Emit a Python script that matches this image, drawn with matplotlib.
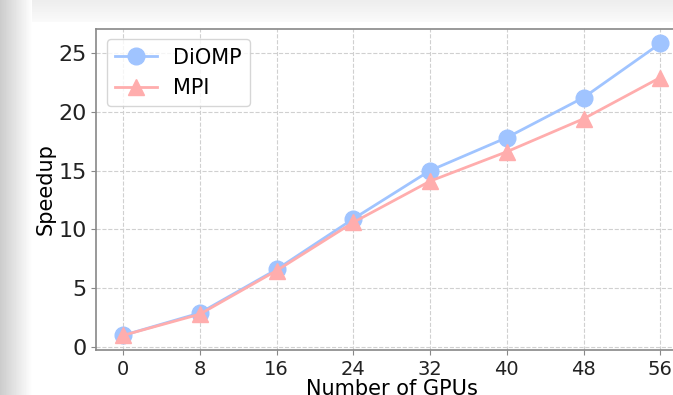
import numpy as np
import matplotlib.pyplot as plt

gpus = [0, 8, 16, 24, 32, 40, 48, 56]
diomp = [1.0, 2.9, 6.6, 10.9, 15.0, 17.8, 21.2, 25.8]
mpi = [1.0, 2.8, 6.5, 10.6, 14.1, 16.6, 19.4, 22.9]

fig = plt.figure(figsize=(6.73, 3.95), dpi=100)

# screenshot shadow around the figure
bg = fig.add_axes([0, 0, 1, 1], zorder=-10)
img = np.ones((395, 673))
xs = np.arange(673)
ys = np.arange(395)
left = np.clip(xs / 32.0, 0, 1)
top = np.clip(ys / 22.0, 0, 1)
img = img * (0.80 + 0.20 * left)[None, :]
img[:22, 32:] = (0.93 + 0.05 * top[:22])[:, None]
img[22:, 32:] = 1.0
bg.imshow(img, cmap='gray', vmin=0, vmax=1, aspect='auto', interpolation='nearest')
bg.axis('off')

ax = fig.add_axes([0.143, 0.114, 0.878, 0.813])
ax.plot(gpus, diomp, color='#a0c4ff', marker='o', markersize=12, linewidth=2, label='DiOMP')
ax.plot(gpus, mpi, color='#ffadad', marker='^', markersize=12, linewidth=2, label='MPI')

ax.set_xlim(-2.8, 58.8)
ax.set_xticks(gpus)
ax.set_yticks([0, 5, 10, 15, 20, 25])
ax.tick_params(axis='x', labelsize=14)
ax.tick_params(axis='y', labelsize=16)
ax.tick_params(colors='#888888', labelcolor='#222222')
ax.set_xlabel('Number of GPUs', fontsize=15, labelpad=0)
ax.set_ylabel('Speedup', fontsize=15, labelpad=2)
ax.grid(True, linestyle='--', color='#d0d0d0', linewidth=0.8)
for s in ax.spines.values():
    s.set_color('#888888')
    s.set_linewidth(1.2)
ax.spines['right'].set_visible(False)
ax.legend(fontsize=15, loc='upper left')

plt.savefig('out.png', dpi=100)
